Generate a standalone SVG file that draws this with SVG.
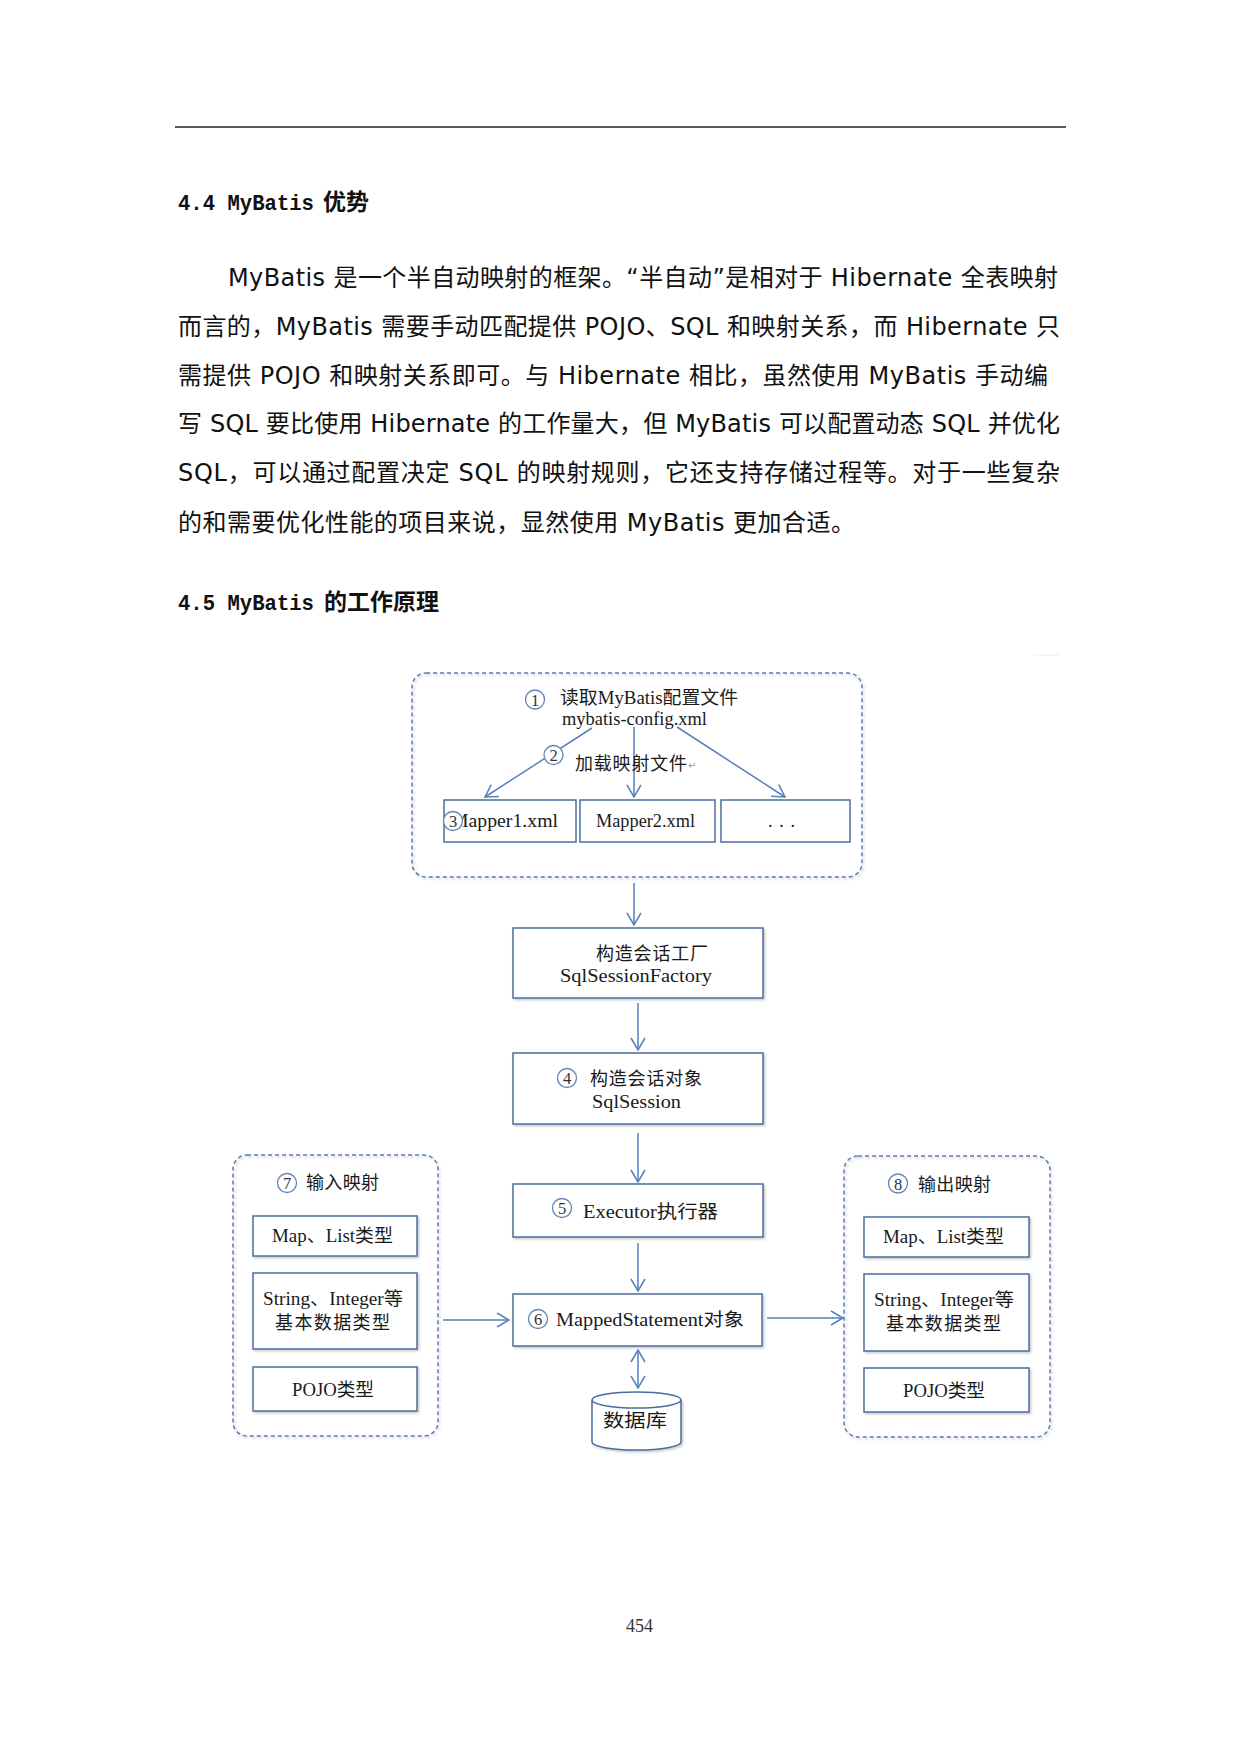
<svg xmlns="http://www.w3.org/2000/svg" width="1240" height="1753" viewBox="0 0 1240 1753">
<style>
.body{font-family:'DejaVu Sans','Noto Sans CJK SC',sans-serif;font-size:24px;fill:#111}
.hl{font-family:'Liberation Mono',monospace;font-weight:bold;font-size:21.5px;fill:#111}
.hc{font-family:'Noto Sans CJK SC',sans-serif;font-weight:bold;font-size:23px;fill:#111}
.t{font-family:'Liberation Serif','Noto Sans CJK SC',serif;font-size:18px;fill:#1a1a1a}
.num{font-family:'Liberation Serif',serif;font-size:16.5px;fill:#333;text-anchor:middle}
.box{fill:#fff;stroke:#4a6c9f;stroke-width:1.5}
.grp{fill:none;stroke:#5b7db0;stroke-width:1.5;stroke-dasharray:4 3}
.cir{fill:#fff;stroke:#6485b4;stroke-width:1.3}
.con{fill:none;stroke:#5580bd;stroke-width:1.5}
</style>
<defs>
<marker id="ah" viewBox="0 0 14 16" markerWidth="14" markerHeight="16" refX="13" refY="8" orient="auto-start-reverse" markerUnits="userSpaceOnUse">
<path d="M1,1 L13,8 L1,15" fill="none" stroke="#5580bd" stroke-width="1.5"/>
</marker>
<filter id="sh" x="-10%" y="-10%" width="130%" height="140%">
<feDropShadow dx="1.5" dy="1.5" stdDeviation="1.2" flood-color="#000" flood-opacity="0.22"/>
</filter>
</defs>
<rect width="1240" height="1753" fill="#fff"/>

<!-- page text -->
<line x1="175" y1="127" x2="1066" y2="127" stroke="#222" stroke-width="1.6"/>
<text class="hl" x="178" y="210" textLength="136" lengthAdjust="spacingAndGlyphs">4.4 MyBatis</text>
<text class="hc" x="323" y="210">优势</text>
<text class="body" x="228" y="286" textLength="830" lengthAdjust="spacing">MyBatis 是一个半自动映射的框架。“半自动”是相对于 Hibernate 全表映射</text>
<text class="body" x="178" y="335" textLength="882" lengthAdjust="spacing">而言的，MyBatis 需要手动匹配提供 POJO、SQL 和映射关系，而 Hibernate 只</text>
<text class="body" x="178" y="383.5" textLength="870" lengthAdjust="spacing">需提供 POJO 和映射关系即可。与 Hibernate 相比，虽然使用 MyBatis 手动编</text>
<text class="body" x="178" y="432" textLength="882" lengthAdjust="spacing">写 SQL 要比使用 Hibernate 的工作量大，但 MyBatis 可以配置动态 SQL 并优化</text>
<text class="body" x="178" y="481" textLength="882" lengthAdjust="spacing">SQL，可以通过配置决定 SQL 的映射规则，它还支持存储过程等。对于一些复杂</text>
<text class="body" x="178" y="531" textLength="677" lengthAdjust="spacing">的和需要优化性能的项目来说，显然使用 MyBatis 更加合适。</text>
<text class="hl" x="178" y="610" textLength="136" lengthAdjust="spacingAndGlyphs">4.5 MyBatis</text>
<text class="hc" x="324" y="610">的工作原理</text>
<line x1="1033" y1="655" x2="1059" y2="655" stroke="#ececec" stroke-width="1"/>
<text x="626" y="1632" font-family="'Liberation Serif',serif" font-size="18" fill="#333" textLength="27">454</text>

<!-- connectors -->
<g id="connectors">
<line class="con" x1="592" y1="728" x2="485" y2="797" marker-end="url(#ah)"/>
<line class="con" x1="634" y1="727" x2="634" y2="797" marker-end="url(#ah)"/>
<line class="con" x1="677" y1="727" x2="785" y2="797" marker-end="url(#ah)"/>
<line class="con" x1="634" y1="883" x2="634" y2="925" marker-end="url(#ah)"/>
<line class="con" x1="638" y1="1003" x2="638" y2="1050" marker-end="url(#ah)"/>
<line class="con" x1="638" y1="1133" x2="638" y2="1182" marker-end="url(#ah)"/>
<line class="con" x1="638" y1="1243" x2="638" y2="1291" marker-end="url(#ah)"/>
<line class="con" x1="443" y1="1320" x2="509" y2="1320" marker-end="url(#ah)"/>
<line class="con" x1="767" y1="1318" x2="843" y2="1318" marker-end="url(#ah)"/>
<line class="con" x1="638" y1="1350" x2="638" y2="1388" marker-start="url(#ah)" marker-end="url(#ah)"/>
</g>

<!-- config group -->
<g id="config">
<rect class="grp" x="412" y="673" width="450" height="204" rx="14" filter="url(#sh)"/>
<circle class="cir" cx="535" cy="699.5" r="9.5"/>
<text class="num" x="535" y="705.5">1</text>
<text class="t" x="560" y="704" textLength="178" lengthAdjust="spacingAndGlyphs">读取MyBatis配置文件</text>
<text class="t" x="562" y="725" font-size="18" textLength="145" lengthAdjust="spacingAndGlyphs">mybatis-config.xml</text>
</g>
<g id="load">
<rect x="562" y="754" width="6" height="4" fill="#fff"/>
<circle class="cir" cx="553.5" cy="755" r="9.5"/>
<text class="num" x="553.5" y="761">2</text>
<text class="t" x="575" y="770" textLength="112" lengthAdjust="spacing">加载映射文件</text>
<text x="688" y="769" font-family="'DejaVu Sans',sans-serif" font-size="10" fill="#999">↵</text>
</g>
<g id="mapper1">
<rect class="box" x="444" y="800" width="132" height="42"/>
<text class="t" x="451" y="827" font-size="19" textLength="107" lengthAdjust="spacingAndGlyphs">Mapper1.xml</text>
<circle class="cir" cx="453" cy="821" r="9.5"/>
<text class="num" x="453" y="827">3</text>
</g>
<g id="mapper2">
<rect class="box" x="580" y="800" width="135" height="42"/>
<text class="t" x="596" y="827" font-size="19" textLength="99" lengthAdjust="spacingAndGlyphs">Mapper2.xml</text>
</g>
<g id="mapper-more">
<rect class="box" x="721" y="800" width="129" height="42"/>
<text class="t" x="768" y="827" font-size="20" textLength="27" lengthAdjust="spacing">. . .</text>
</g>

<g id="factory">
<rect class="box" x="513" y="928" width="250" height="70" filter="url(#sh)"/>
<text class="t" x="596" y="960" textLength="112" lengthAdjust="spacing">构造会话工厂</text>
<text class="t" x="560" y="982" font-size="20" textLength="152" lengthAdjust="spacingAndGlyphs">SqlSessionFactory</text>
</g>
<g id="session">
<rect class="box" x="513" y="1053" width="250" height="71" filter="url(#sh)"/>
<circle class="cir" cx="567" cy="1078" r="9.5"/>
<text class="num" x="567" y="1084">4</text>
<text class="t" x="590" y="1085" textLength="112" lengthAdjust="spacing">构造会话对象</text>
<text class="t" x="592" y="1108" font-size="20" textLength="89" lengthAdjust="spacingAndGlyphs">SqlSession</text>
</g>
<g id="executor">
<rect class="box" x="513" y="1184" width="250" height="53" filter="url(#sh)"/>
<circle class="cir" cx="562" cy="1208" r="9.5"/>
<text class="num" x="562" y="1214">5</text>
<text class="t" x="583" y="1218" font-size="20" textLength="135" lengthAdjust="spacingAndGlyphs">Executor执行器</text>
</g>
<g id="mapped">
<rect class="box" x="513" y="1294" width="249" height="52" filter="url(#sh)"/>
<circle class="cir" cx="538" cy="1319" r="9.5"/>
<text class="num" x="538" y="1325">6</text>
<text class="t" x="556" y="1326" font-size="20" textLength="188" lengthAdjust="spacingAndGlyphs">MappedStatement对象</text>
</g>
<g id="database">
<path d="M592,1400 L592,1442 A44.5,8 0 0 0 681,1442 L681,1400" fill="#fff" stroke="#4a6c9f" stroke-width="1.5" filter="url(#sh)"/>
<ellipse cx="636.5" cy="1400" rx="44.5" ry="8" fill="#fff" stroke="#4a6c9f" stroke-width="1.5"/>
<text class="t" x="603" y="1427" font-size="21" textLength="64" lengthAdjust="spacingAndGlyphs">数据库</text>
</g>

<g id="input-mapping">
<rect class="grp" x="233" y="1155" width="205" height="281" rx="14" filter="url(#sh)"/>
<circle class="cir" cx="287" cy="1183" r="9.5"/>
<text class="num" x="287" y="1189">7</text>
<text class="t" x="306" y="1189" textLength="73" lengthAdjust="spacing">输入映射</text>
<rect class="box" x="253" y="1216" width="164" height="40" filter="url(#sh)"/>
<text class="t" x="272" y="1242" textLength="121" lengthAdjust="spacingAndGlyphs">Map、List类型</text>
<rect class="box" x="253" y="1273" width="164" height="76" filter="url(#sh)"/>
<text class="t" x="263" y="1305" textLength="140" lengthAdjust="spacingAndGlyphs">String、Integer等</text>
<text class="t" x="275" y="1329" textLength="115" lengthAdjust="spacing">基本数据类型</text>
<rect class="box" x="253" y="1367" width="164" height="44" filter="url(#sh)"/>
<text class="t" x="292" y="1396" textLength="82" lengthAdjust="spacingAndGlyphs">POJO类型</text>
</g>

<g id="output-mapping">
<rect class="grp" x="844" y="1156" width="206" height="281" rx="14" filter="url(#sh)"/>
<circle class="cir" cx="898" cy="1183.5" r="9.5"/>
<text class="num" x="898" y="1189.5">8</text>
<text class="t" x="918" y="1191" textLength="73" lengthAdjust="spacing">输出映射</text>
<rect class="box" x="864" y="1217" width="165" height="40" filter="url(#sh)"/>
<text class="t" x="883" y="1243" textLength="121" lengthAdjust="spacingAndGlyphs">Map、List类型</text>
<rect class="box" x="864" y="1274" width="165" height="77" filter="url(#sh)"/>
<text class="t" x="874" y="1306" textLength="140" lengthAdjust="spacingAndGlyphs">String、Integer等</text>
<text class="t" x="886" y="1330" textLength="115" lengthAdjust="spacing">基本数据类型</text>
<rect class="box" x="864" y="1368" width="165" height="44" filter="url(#sh)"/>
<text class="t" x="903" y="1397" textLength="82" lengthAdjust="spacingAndGlyphs">POJO类型</text>
</g>
</svg>
